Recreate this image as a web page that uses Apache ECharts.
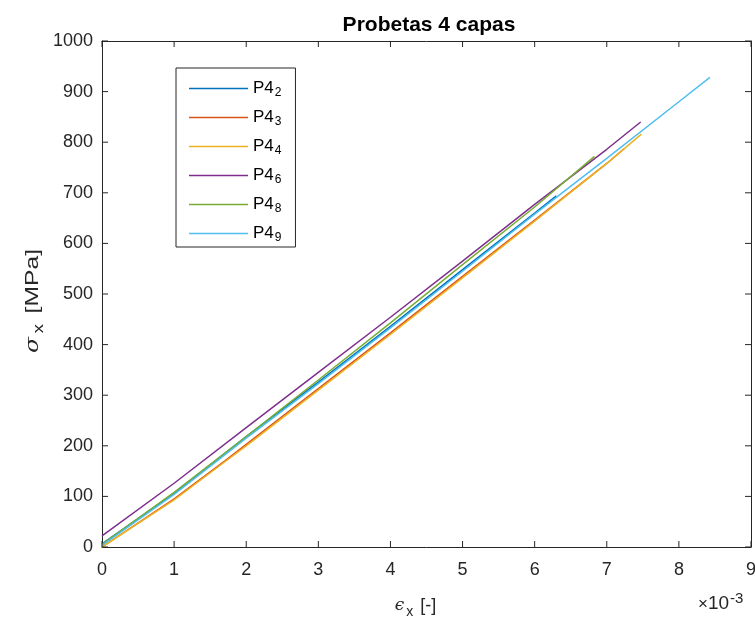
<!DOCTYPE html>
<html>
<head>
<meta charset="utf-8">
<script src="https://cdn.jsdelivr.net/npm/echarts@6/dist/echarts.min.js"></script>
<style>
  html, body { margin: 0; padding: 0; background: #fff; }
  #chart { width: 755px; height: 619px; }
</style>
</head>
<body>
<div id="chart"></div>
<script>
// Strain values are in units of 1e-3, stress in MPa
const seriesNames = ['P4_2', 'P4_3', 'P4_4', 'P4_6', 'P4_8', 'P4_9'];
const seriesColors = ['#0072BD', '#D95319', '#EDB120', '#7E2F8E', '#77AC30', '#4DBEEE'];

const strainP42 = [0, 1, 2, 3, 4, 5, 6, 6.3];
const stressP42 = [6, 106, 218, 326, 436, 548, 660, 694];

const strainP43 = [0, 1, 1.7, 2, 3, 4, 5, 6, 7, 7.24];
const stressP43 = [0, 95, 170, 203, 313, 423, 535, 646, 758, 787];

const strainP44 = [0, 1, 1.7, 2, 3, 4, 5, 6, 7, 7.48];
const stressP44 = [0, 93, 168, 200, 310, 420, 532, 644, 758, 816];

const strainP46 = [0, 1, 2, 3, 4, 5, 6, 7, 7.47];
const stressP46 = [22, 126, 236, 345, 454, 565, 677, 786, 840];

const strainP48 = [0, 1, 2, 3, 4, 5, 6, 6.83];
const stressP48 = [5, 108, 218, 330, 443, 558, 672, 772];

const strainP49 = [0, 1, 2, 3, 4, 5, 6, 7, 8, 8.43];
const stressP49 = [3, 104, 215, 323, 433, 545, 658, 768, 880, 928];

const xTicks = [0, 1, 2, 3, 4, 5, 6, 7, 8, 9];
const yTicks = [0, 100, 200, 300, 400, 500, 600, 700, 800, 900, 1000];

const strains = [strainP42, strainP43, strainP44, strainP46, strainP48, strainP49];
const stresses = [stressP42, stressP43, stressP44, stressP46, stressP48, stressP49];

const axisColor = '#262626';
const fontFamily = '"Liberation Sans", Arial, sans-serif';
const tickLen = 6;

const xMin = xTicks[0], xMax = xTicks[xTicks.length - 1];
const yMin = yTicks[0], yMax = yTicks[yTicks.length - 1];

function pairs(xs, ys) {
  return xs.map((x, i) => [x, ys[i]]);
}

function frameLine(onZero) {
  return { show: true, onZero: onZero, lineStyle: { color: axisColor, width: 1 } };
}

function tickLine(x1, y1, x2, y2) {
  return { type: 'line', shape: { x1, y1, x2, y2 }, style: { stroke: axisColor, lineWidth: 1 } };
}

// Inward tick marks on all four sides of the box, placed through the axis scales
const xTickSeries = {
  type: 'custom',
  silent: true,
  z: 10,
  data: xTicks.map(v => [v]),
  renderItem: function (params, api) {
    const b = api.coord([api.value(0), yMin]);
    const t = api.coord([api.value(0), yMax]);
    return {
      type: 'group',
      children: [
        tickLine(b[0], b[1], b[0], b[1] - tickLen),
        tickLine(t[0], t[1], t[0], t[1] + tickLen)
      ]
    };
  }
};

const yTickSeries = {
  type: 'custom',
  silent: true,
  z: 10,
  data: yTicks.map(v => [xMin, v]),
  renderItem: function (params, api) {
    const l = api.coord([xMin, api.value(1)]);
    const r = api.coord([xMax, api.value(1)]);
    return {
      type: 'group',
      children: [
        tickLine(l[0], l[1], l[0] + tickLen, l[1]),
        tickLine(r[0], r[1], r[0] - tickLen, r[1])
      ]
    };
  }
};

const chart = echarts.init(document.getElementById('chart'));

const lineSeries = seriesNames.map((name, i) => ({
  name: name,
  type: 'line',
  data: pairs(strains[i], stresses[i]),
  symbol: 'none',
  color: seriesColors[i],
  lineStyle: { width: 1.5, color: seriesColors[i] }
}));

const xRange = { type: 'value', min: xMin, max: xMax, interval: 1 };
const yRange = { type: 'value', min: yMin, max: yMax, interval: 100 };

chart.setOption({
  animation: false,
  backgroundColor: '#fff',
  title: {
    text: 'Probetas 4 capas',
    left: 424,
    textAlign: 'center',
    top: 10,
    textStyle: { fontFamily, fontSize: 21, fontWeight: 'bold', color: '#000' }
  },
  grid: { left: 102, right: 4, top: 41, bottom: 72, outerBoundsMode: 'none', containLabel: false },
  legend: {
    orient: 'vertical',
    left: 176,
    top: 68,
    padding: [10, 14, 3, 13],
    icon: 'rect',
    itemWidth: 59,
    itemHeight: 1.5,
    itemGap: 8,
    borderColor: axisColor,
    borderWidth: 1,
    borderRadius: 0,
    backgroundColor: '#fff',
    z: 20,
    data: seriesNames,
    formatter: function (name) {
      const parts = name.split('_');
      return '{m|' + parts[0] + '}{s|' + parts[1] + '}';
    },
    textStyle: {
      fontFamily,
      color: '#000',
      rich: {
        m: { fontFamily, fontSize: 17, color: '#000', lineHeight: 18 },
        s: { fontFamily, fontSize: 12, color: '#000', lineHeight: 18, padding: [9, 0, 0, 1] }
      }
    }
  },
  xAxis: [
    Object.assign({}, xRange, {
      position: 'bottom',
      axisLine: frameLine(true), axisTick: { show: false }, splitLine: { show: false },
      axisLabel: { fontFamily, fontSize: 18, color: axisColor, margin: 14 },
      name: '{e|ϵ}{s|x}{t| [-]}',
      nameLocation: 'middle',
      nameGap: 46,
      nameTextStyle: {
        padding: [0, 22, 0, 0],
        rich: {
          e: { fontFamily: 'DejaVu Serif', fontStyle: 'italic', fontSize: 17, color: axisColor },
          s: { fontFamily, fontSize: 14, color: axisColor, padding: [12, 2, 0, 2] },
          t: { fontFamily, fontSize: 18, color: axisColor }
        }
      }
    }),
    Object.assign({}, xRange, {
      position: 'top',
      axisLine: frameLine(false), axisTick: { show: false },
      axisLabel: { show: false }, splitLine: { show: false }
    })
  ],
  yAxis: [
    Object.assign({}, yRange, {
      position: 'left',
      axisLine: frameLine(true), axisTick: { show: false }, splitLine: { show: false },
      axisLabel: { fontFamily, fontSize: 18, color: axisColor, margin: 9, formatter: v => String(v) }
    }),
    Object.assign({}, yRange, {
      position: 'right',
      axisLine: frameLine(false), axisTick: { show: false },
      axisLabel: { show: false }, splitLine: { show: false }
    })
  ],
  graphic: [
    {
      // vertical axis title, rotated to read bottom-to-top
      type: 'text',
      x: 33,
      y: 301,
      rotation: Math.PI / 2,
      scaleX: 1.3,
      style: {
        text: '{e|σ}{s|x}{t| [MPa]}',
        align: 'center',
        verticalAlign: 'middle',
        rich: {
          e: { fontFamily: 'DejaVu Serif', fontStyle: 'italic', fontSize: 18, fill: axisColor },
          s: { fontFamily, fontSize: 14, fill: axisColor, padding: [12, 3, 0, 3] },
          t: { fontFamily, fontSize: 19, fill: axisColor }
        }
      }
    },
    {
      type: 'text',
      left: 698,
      top: 591,
      style: {
        text: '{x|×}{n|10}{p|-3}',
        rich: {
          x: { fontFamily, fontSize: 17, fill: axisColor },
          n: { fontFamily, fontSize: 19, fill: axisColor },
          p: { fontFamily, fontSize: 15, fill: axisColor, padding: [0, 0, 11, 1] }
        }
      }
    }
  ],
  series: lineSeries.concat([xTickSeries, yTickSeries])
});
</script>
</body>
</html>
